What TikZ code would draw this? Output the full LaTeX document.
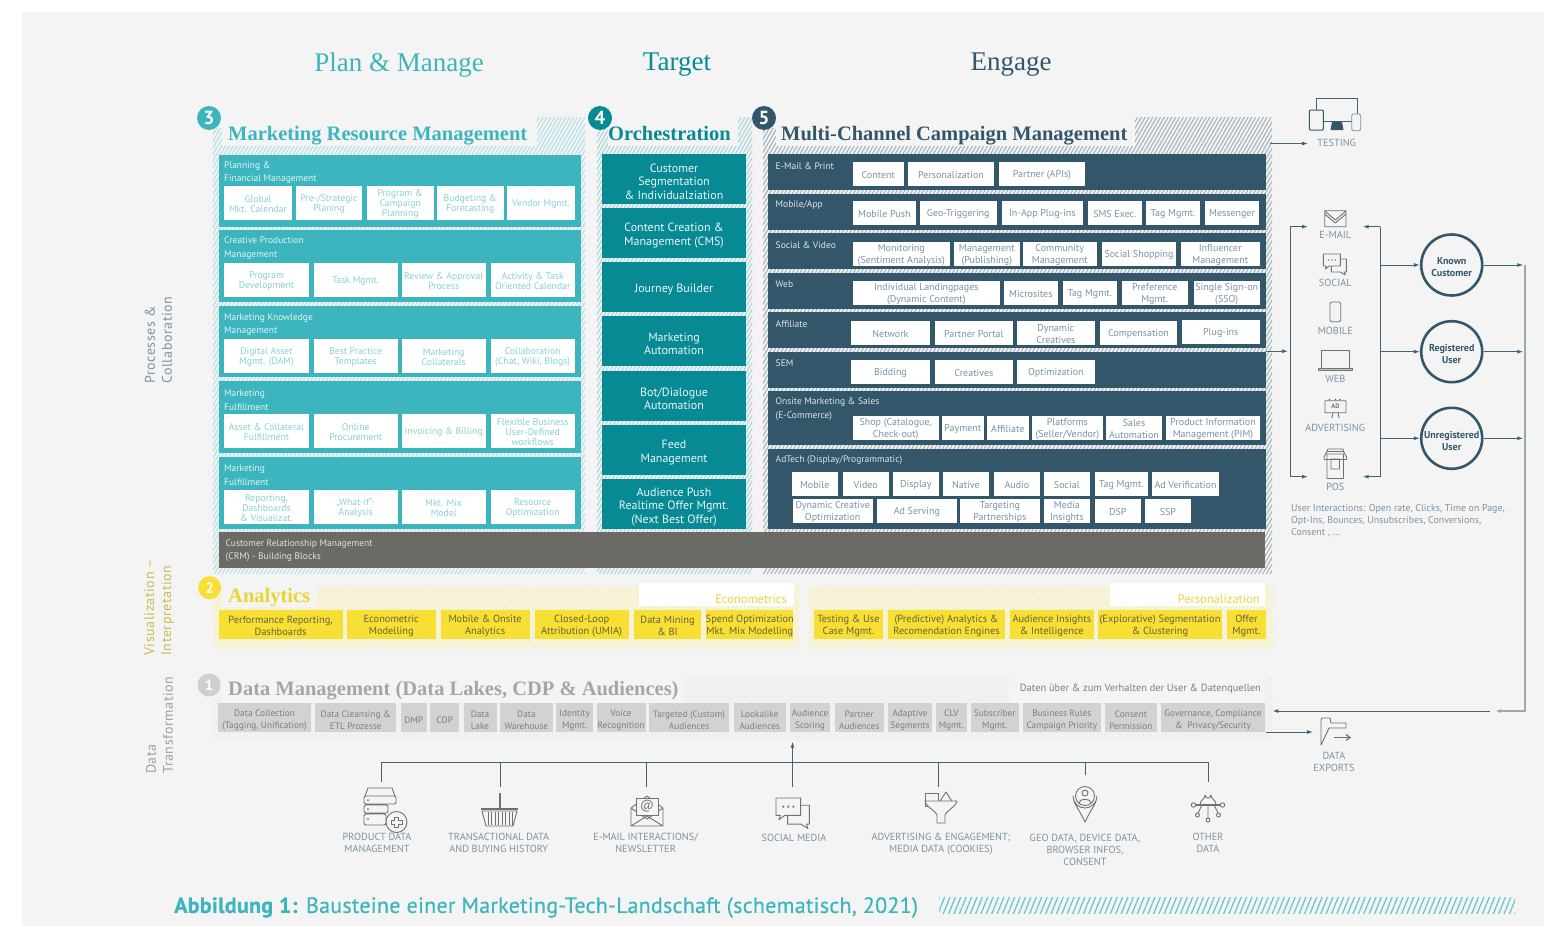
\documentclass[tikz,border=0pt]{standalone}
\usepackage{fontspec}
\setmainfont{PT Sans}
\newfontfamily\titlefont{Liberation Serif}
\newfontfamily\spacedfont[LetterSpace=4]{PT Sans}
\newfontfamily\capfont[LetterSpace=1.2,FakeBold=0.4]{PT Sans}
\usetikzlibrary{patterns.meta,arrows.meta}
\definecolor{bgc}{HTML}{F4F4F4}
\definecolor{mrm}{HTML}{3DB5BF}
\definecolor{orc}{HTML}{078A94}
\definecolor{mcc}{HTML}{33566B}
\definecolor{crm}{HTML}{6B6A65}
\definecolor{yel}{HTML}{F7DF33}
\definecolor{yeltx}{HTML}{66623F}
\definecolor{gbox}{HTML}{D2D2D0}
\definecolor{gtx}{HTML}{7E7E7B}
\definecolor{lbl}{HTML}{7B93A5}
\definecolor{ico}{HTML}{72716E}
\definecolor{conn}{HTML}{3F6379}
\newcount\myboxc
\def\txtdy{1.2}
\newcommand{\mybox}[6]{\global\advance\myboxc 1
  \pgfmathsetmacro\cx{(#2+#4)/2}\pgfmathsetmacro\cy{(#3+#5)/2}
  \pgfmathsetmacro\cty{\cy+\txtdy}
  \pgfmathsetmacro\bw{#4-#2}\pgfmathsetmacro\bh{#5-#3}
  \node[#1,minimum width=\bw pt,minimum height=\bh pt] (b\the\myboxc) at (\cx,\cy) {};
  \node[#1,fill=none] (bt\the\myboxc) at (\cx,\cty) {#6};}
\newcommand{\myhatch}[5]{\fill[pattern={Lines[angle=60,distance=3.3pt,line width=1.1pt]},pattern color=#5] (#1,#2) rectangle (#3,#4);}
\newcommand{\mypatch}[4]{\fill[bgc] (#1,#2) rectangle (#3,#4);}
\tikzset{
 base/.style={inner sep=0pt,outer sep=0pt,align=center},
 wbm/.style={base,fill=white,text=mrm!62,font=\fontsize{9.7}{10}\selectfont},
 wbc/.style={base,fill=white,text=lbl,font=\fontsize{10}{12}\selectfont},
 panm/.style={base,fill=mrm},
 pano/.style={base,fill=orc,text=white!92!orc,font=\fontsize{12}{13.5}\selectfont},
 panc/.style={base,fill=mcc},
 pantxt/.style={inner sep=0pt,anchor=west,align=left,yshift=-1.2pt,font=\fontsize{9.5}{13.5}\selectfont},
 ybox/.style={base,fill=yel,text=yeltx,font=\fontsize{10.4}{12}\selectfont},
 gboxs/.style={base,fill=gbox,text=gtx,font=\fontsize{9.3}{12}\selectfont},
 ttl/.style={inner sep=0pt,anchor=base west,font=\fontsize{20.5}{21}\titlefont\bfseries},
 hdr/.style={inner sep=0pt,yshift=-3pt,font=\fontsize{27}{27}\titlefont},
 num/.style={circle,inner sep=0pt,minimum size=24pt,text=white,font=\fontsize{19}{19}\selectfont\bfseries},
 side/.style={inner sep=0pt,rotate=90,align=left,font=\fontsize{14}{17}\spacedfont},
 lab/.style={inner sep=0pt,align=center,text=lbl,font=\fontsize{10.3}{12}\selectfont},
 kpi/.style={circle,draw=mcc,line width=2.6pt,minimum size=61pt,inner sep=0pt},
 kpit/.style={inner sep=0pt,align=center,text=mcc,font=\fontsize{10}{12}\selectfont\bfseries},
 arr/.style={draw=conn,line width=1pt,-{Latex[length=6pt,width=4pt]}},
 lin/.style={draw=conn,line width=1pt},
 icon/.style={draw=ico,line width=.9pt,line join=round,fill=none},
 socialicon/.pic={
   \draw[icon] (0,0) -- (17,0) -- (17,12) -- (6,12) -- (2,15) -- (3,12) -- (0,12) -- cycle;
   \draw[icon] (17,5) -- (23,5) -- (23,18) -- (21,18) -- (22,21) -- (17,18) -- (8,18) -- (8,12);
   \fill[ico] (5,6) circle (.8) (8.5,6) circle (.8) (12,6) circle (.8);
 }
}
\begin{document}
\begin{tikzpicture}[x=1pt,y=-1pt]
\useasboundingbox (0,0) rectangle (1544,926);
\fill[white] (0,0) rectangle (1544,926);
\fill[bgc] (22,12) rectangle (1544,926);
% headers
\node[hdr,text=mrm] (h1) at (399,62) {Plan \& Manage};
\node[hdr,text=orc] (h2) at (677,62) {Target};
\node[hdr,text=mcc] (h3) at (1011,62) {Engage};
% side labels
\node[side,anchor=west,text=lbl] (s1) at (158.5,384) {Processes \&\\Collaboration};
\node[side,anchor=west,text=yel!62!gray] (s2) at (159,656) {Visualization –\\Interpretation};
\node[side,anchor=west,text=gray!75] (s3) at (159.5,774) {Data\\Transformation};
% hatch regions
\myhatch{213}{117}{585}{573}{mrm!40}
\myhatch{597}{117}{752}{573}{orc!35}
\myhatch{763}{117}{1272}{573}{mcc!45}
\mypatch{222}{117}{537}{146}\mypatch{213}{117}{222}{128}
\mypatch{608}{117}{738}{146}\mypatch{597}{117}{608}{128}
\mypatch{776}{117}{1135}{146}\mypatch{763}{117}{776}{128}
% titles
\node[num,fill=mrm] (n3) at (209,118) {3};
\node[num,fill=orc] (n4) at (600,118) {4};
\node[num,fill=mcc] (n5) at (764,118) {5};
\node[ttl,text=mrm] (t3) at (228,140) {Marketing Resource Management};
\node[ttl,text=orc] (t4) at (608,140) {Orchestration};
\node[ttl,text=mcc] (t5) at (781,140) {Multi-Channel Campaign Management};
% MRM blocks
\mybox{panm}{219}{155}{581}{227}{}
\mybox{panm}{219}{230}{581}{302}{}
\mybox{panm}{219}{306}{581}{377}{}
\mybox{panm}{219}{381}{581}{453}{}
\mybox{panm}{219}{457}{581}{529}{}
\node[pantxt,text=white!85!mrm] (l1) at (224,171.3) {Planning \&\\Financial Management};
\node[pantxt,text=white!85!mrm] (l2) at (224,247) {Creative Production\\Management};
\node[pantxt,text=white!85!mrm] (l3) at (224,323.5) {Marketing Knowledge\\Management};
\node[pantxt,text=white!85!mrm] (l4) at (224,398.8) {Marketing\\Fulfillment};
\node[pantxt,text=white!85!mrm] (l5) at (224,474.2) {Marketing\\Fulfillment};
\mybox{wbm}{224.3}{186}{291.7}{220}{Global\\Mkt. Calendar}
\mybox{wbm}{295.7}{186}{362.3}{220}{Pre-/Strategic\\Planing}
\mybox{wbm}{366.7}{186}{433.7}{220}{Program \&\\Campaign\\Planning}
\mybox{wbm}{436.7}{186}{503.7}{220}{Budgeting \&\\Forecasting}
\mybox{wbm}{507.3}{186}{574.7}{220}{Vendor Mgmt.}
\mybox{wbm}{224.3}{263}{308.7}{297}{Program\\Development}
\mybox{wbm}{313.7}{263}{397.7}{297}{Task Mgmt.}
\mybox{wbm}{401.7}{263}{485.7}{297}{Review \& Approval\\Process}
\mybox{wbm}{490.7}{263}{574.7}{297}{Activity \& Task\\Oriented Calendar}
\mybox{wbm}{224.3}{339}{308.7}{373}{Digital Asset\\Mgmt. (DAM)}
\mybox{wbm}{313.7}{339}{397.7}{373}{Best Practice\\Templates}
\mybox{wbm}{401.7}{339}{485.7}{373}{Marketing\\Collaterals}
\mybox{wbm}{490.7}{339}{574.7}{373}{Collaboration\\(Chat, Wiki, Blogs)}
\mybox{wbm}{224.3}{414}{308.7}{448}{Asset \& Collateral\\Fulfillment}
\mybox{wbm}{313.7}{414}{397.7}{448}{Online\\Procurement}
\mybox{wbm}{401.7}{414}{485.7}{448}{Invoicing \& Billing}
\mybox{wbm}{490.7}{414}{574.7}{448}{Flexible Business\\User-Defined\\workflows}
\mybox{wbm}{224.3}{490}{308.7}{524}{Reporting,\\Dashboards\\\& Visualizat.}
\mybox{wbm}{313.7}{490}{397.7}{524}{„What-if“-\\Analysis}
\mybox{wbm}{401.7}{490}{485.7}{524}{Mkt. Mix\\Model}
\mybox{wbm}{490.7}{490}{574.7}{524}{Resource\\Optimization}
% Orchestration
\def\txtdy{2.7}
\mybox{pano}{602}{154}{746}{204}{Customer\\Segmentation\\\& Individualziation}
\mybox{pano}{602}{208}{746}{258}{Content Creation \&\\Management (CMS)}
\mybox{pano}{602}{262}{746}{312}{Journey Builder}
\mybox{pano}{602}{316}{746}{366}{Marketing\\Automation}
\mybox{pano}{602}{371}{746}{421}{Bot/Dialogue\\Automation}
\mybox{pano}{602}{425}{746}{475}{Feed\\Management}
\mybox{pano}{602}{479}{746}{529}{Audience Push\\Realtime Offer Mgmt.\\(Next Best Offer)}
\def\txtdy{1.2}
% MCC
\mybox{panc}{768.4}{154}{1266}{190}{}
\mybox{panc}{768.4}{194}{1266}{230}{}
\mybox{panc}{768.4}{233}{1266}{269}{}
\mybox{panc}{768.4}{273}{1266}{309}{}
\mybox{panc}{768.4}{312}{1266}{348}{}
\mybox{panc}{768.4}{352}{1266}{388}{}
\mybox{panc}{768.4}{391}{1266}{445}{}
\mybox{panc}{768.4}{449}{1266}{529}{}
\node[pantxt,text=white!85!mcc] (m1) at (775.5,164.7) {E-Mail \& Print};
\node[pantxt,text=white!85!mcc] (m2) at (775.5,204) {Mobile/App};
\node[pantxt,text=white!85!mcc] (m3) at (775.5,243.6) {Social \& Video};
\node[pantxt,text=white!85!mcc] (m4) at (775.5,283) {Web};
\node[pantxt,text=white!85!mcc] (m5) at (775.5,322.6) {Affiliate};
\node[pantxt,text=white!85!mcc] (m6) at (775.5,362) {SEM};
\node[pantxt,text=white!85!mcc] (m7) at (775.5,408) {Onsite Marketing \& Sales\\(E-Commerce)};
\node[pantxt,text=white!85!mcc] (m8) at (775.5,458.7) {AdTech (Display/Programmatic)};
\mybox{wbc}{852.8}{162}{903.7}{186}{Content}
\mybox{wbc}{908}{162}{994}{186}{Personalization}
\mybox{wbc}{999}{162}{1085}{186}{Partner (APIs)}
\mybox{wbc}{853}{201}{915.7}{225}{Mobile Push}
\mybox{wbc}{920}{201}{996.5}{225}{Geo-Triggering}
\mybox{wbc}{1002}{201}{1082.7}{225}{In-App Plug-ins}
\mybox{wbc}{1088}{201}{1141.6}{225}{SMS Exec.}
\mybox{wbc}{1146}{201}{1200}{225}{Tag Mgmt.}
\mybox{wbc}{1205}{201}{1259}{225}{Messenger}
\mybox{wbc}{853}{242}{949.6}{266}{Monitoring\\(Sentiment Analysis)}
\mybox{wbc}{954}{242}{1019.7}{266}{Management\\(Publishing)}
\mybox{wbc}{1023}{242}{1096.5}{266}{Community\\Management}
\mybox{wbc}{1102}{242}{1176}{266}{Social Shopping}
\mybox{wbc}{1181}{242}{1259.5}{266}{Influencer\\Management}
\mybox{wbc}{853}{281}{999.6}{305}{Individual Landingpages\\(Dynamic Content)}
\mybox{wbc}{1004}{281}{1057.7}{305}{Microsites}
\mybox{wbc}{1063}{281}{1116.6}{305}{Tag Mgmt.}
\mybox{wbc}{1122}{281}{1187.6}{305}{Preference\\Mgmt.}
\mybox{wbc}{1194}{281}{1259.5}{305}{Single Sign-on\\(SSO)}
\mybox{wbc}{851.4}{321}{929.5}{345}{Network}
\mybox{wbc}{935}{321}{1012.6}{345}{Partner Portal}
\mybox{wbc}{1017}{321}{1094.7}{345}{Dynamic\\Creatives}
\mybox{wbc}{1100}{321}{1177}{345}{Compensation}
\mybox{wbc}{1182}{320}{1259.5}{344}{Plug-ins}
\mybox{wbc}{851.4}{360}{929.5}{384}{Bidding}
\mybox{wbc}{935}{360}{1012.6}{384}{Creatives}
\mybox{wbc}{1017}{360}{1094.7}{384}{Optimization}
\mybox{wbc}{852.7}{416}{938.7}{440}{Shop (Catalogue,\\Check-out)}
\mybox{wbc}{942}{416}{983.7}{440}{Payment}
\mybox{wbc}{987}{416}{1028.7}{440}{Affiliate}
\mybox{wbc}{1032}{416}{1102.7}{440}{Platforms\\(Seller/Vendor)}
\mybox{wbc}{1106}{416}{1162}{440}{Sales\\Automation}
\mybox{wbc}{1166}{416}{1260}{440}{Product Information\\Management (PIM)}
\mybox{wbc}{791.7}{472.3}{837.7}{496}{Mobile}
\mybox{wbc}{842.7}{472.3}{888.7}{496}{Video}
\mybox{wbc}{893}{472.3}{938.7}{496}{Display}
\mybox{wbc}{943}{472.3}{988.7}{496}{Native}
\mybox{wbc}{994}{472.3}{1039.7}{496}{Audio}
\mybox{wbc}{1044}{472.3}{1089.7}{496}{Social}
\mybox{wbc}{1095}{472.3}{1148}{496}{Tag Mgmt.}
\mybox{wbc}{1152}{472.3}{1219}{496}{Ad Verification}
\mybox{wbc}{792.7}{499}{872.7}{522.7}{Dynamic Creative\\Optimization}
\mybox{wbc}{877}{499}{956.7}{522.7}{Ad Serving}
\mybox{wbc}{960}{499}{1039.7}{522.7}{Targeting\\Partnerships}
\mybox{wbc}{1044}{499}{1089.7}{522.7}{Media\\Insights}
\mybox{wbc}{1095}{499}{1140.7}{522.7}{DSP}
\mybox{wbc}{1145}{499}{1190.7}{522.7}{SSP}
% CRM
\mybox{base,fill=crm}{219}{532}{1265}{568}{}
\node[pantxt,text=white!80!crm] (crmt) at (225.5,549.7) {Customer Relationship Management\\(CRM) - Building Blocks};
% Analytics
\myhatch{214}{586}{799}{648}{yel!45}
\myhatch{809}{586}{1272.7}{648}{yel!45}
\mypatch{222}{586}{317}{607}
\fill[white] (639,583) rectangle (794,606);
\fill[white] (1110,583) rectangle (1265,606);
\node[num,fill=yel,minimum size=23pt,font=\fontsize{15}{15}\selectfont\bfseries] (n2) at (209.6,587.7) {2};
\node[ttl,text=yel!95!black] (t2) at (228,602) {Analytics};
\node[inner sep=0pt,anchor=east,text=yel!90!gray,font=\fontsize{12.5}{12.5}\selectfont] (e1) at (787,599) {Econometrics};
\node[inner sep=0pt,anchor=east,text=yel!90!gray,font=\fontsize{12.5}{12.5}\selectfont] (e2) at (1260,599) {Personalization};
\def\txtdy{1.5}
\mybox{ybox}{218.6}{610}{342.7}{639}{Performance Reporting,\\Dashboards}
\mybox{ybox}{346.7}{610}{435.7}{639}{Econometric\\Modelling}
\mybox{ybox}{440.6}{610}{529.6}{639}{Mobile \& Onsite\\Analytics}
\mybox{ybox}{534.5}{610}{628.8}{639}{Closed-Loop\\Attribution (UMIA)}
\mybox{ybox}{633.7}{610}{701.4}{639}{Data Mining\\\& BI}
\mybox{ybox}{706.3}{610}{793.3}{639}{Spend Optimization\\Mkt. Mix Modelling}
\mybox{ybox}{814}{610}{883}{639}{Testing \& Use\\Case Mgmt.}
\mybox{ybox}{888}{610}{1005}{639}{(Predictive) Analytics \&\\Recomendation Engines}
\mybox{ybox}{1010}{610}{1093.7}{639}{Audience Insights\\\& Intelligence}
\mybox{ybox}{1098}{610}{1222}{639}{(Explorative) Segmentation\\\& Clustering}
\mybox{ybox}{1227}{610}{1266}{639}{Offer\\Mgmt.}
% Data management
\myhatch{212.6}{677}{1272.4}{739}{gray!15}
\mypatch{222}{677}{684}{702.7}
\mypatch{1009}{677}{1265}{702.7}
\node[num,fill=gray!38,minimum size=23pt,font=\fontsize{15}{15}\selectfont\bfseries] (n1) at (209,685) {1};
\node[ttl,text=gray!70] (t1) at (228,695) {Data Management (Data Lakes, CDP \& Audiences)};
\node[inner sep=0pt,anchor=east,text=gtx,font=\fontsize{10.4}{10}\selectfont] (dt) at (1261,689) {Daten über \& zum Verhalten der User \& Datenquellen};
\def\txtdy{2.5}
\mybox{gboxs}{218.4}{702.7}{310.8}{732}{Data Collection\\(Tagging, Unification)}
\mybox{gboxs}{315.3}{702.7}{396}{732}{Data Cleansing \&\\ETL Prozesse}
\mybox{gboxs}{400.5}{702.7}{427}{732}{DMP}
\mybox{gboxs}{430.4}{702.7}{459}{732}{CDP}
\mybox{gboxs}{463.5}{702.7}{496.5}{732}{Data\\Lake}
\mybox{gboxs}{500}{702.7}{552.8}{732}{Data\\Warehouse}
\mybox{gboxs}{556.3}{702.7}{593}{732}{Identity\\Mgmt.}
\mybox{gboxs}{596.5}{702.7}{645.6}{732}{Voice\\Recognition}
\mybox{gboxs}{649}{702.7}{729}{732}{Targeted (Custom)\\Audiences}
\mybox{gboxs}{733.6}{702.7}{785.8}{732}{Lookalike\\Audiences}
\mybox{gboxs}{790}{702.7}{830}{732}{Audience\\Scoring}
\mybox{gboxs}{834.8}{702.7}{883.7}{732}{Partner\\Audiences}
\mybox{gboxs}{887.9}{702.7}{932}{732}{Adaptive\\Segments}
\mybox{gboxs}{936}{702.7}{966.8}{732}{CLV\\Mgmt.}
\mybox{gboxs}{970.5}{702.7}{1019}{732}{Subscriber\\Mgmt.}
\mybox{gboxs}{1022.7}{702.7}{1101}{732}{Business Rules\\Campaign Priority}
\mybox{gboxs}{1104.9}{702.7}{1157}{732}{Consent\\Permission}
\mybox{gboxs}{1161}{702.7}{1265}{732}{Governance, Compliance\\\& \ Privacy/Security}
% Right side
\node[lab] (testing) at (1336.7,142.7) {TESTING};
\coordinate (tst) at (1270,143.5); \coordinate (tsti) at (1308,143.5);
\draw[arr] (tst) -- (tsti);
\draw[draw=conn,line width=1pt] (1316.7,110) -- (1316.7,98.3) -- (1357.3,98.3) -- (1357.3,114);
\draw[draw=conn,line width=1pt] (1323.3,121.7) -- (1351.7,121.7);
\fill[mcc] (1332,122) -- (1342,122) -- (1343.5,130) -- (1330.5,130) -- cycle;
\draw[draw=mcc,line width=1pt,rounded corners=1pt] (1309.3,110) rectangle (1323.3,130);
\draw[draw=lbl,line width=.9pt,rounded corners=1.5pt] (1351.7,114) rectangle (1360.7,130.7);
\node[lab] (le) at (1335.3,235) {E-MAIL};
\node[lab] (ls) at (1335.3,283) {SOCIAL};
\node[lab] (lm) at (1335.3,331) {MOBILE};
\node[lab] (lw) at (1335.3,379) {WEB};
\node[lab] (la) at (1335.3,428.3) {ADVERTISING};
\node[lab] (lp) at (1335.3,487) {POS};
\draw[icon] (1324.7,210.7) rectangle (1346,226.7) (1324.7,211) -- (1335.3,220) -- (1346,211) (1324.7,214) -- (1335.3,223) -- (1346,214);
\path (1323.3,254) pic {socialicon};
\draw[icon,rounded corners=1.5pt] (1330,302) rectangle (1340.7,321.7);
\draw[icon] (1321.7,350.7) rectangle (1349.3,368.3);
\draw[icon,fill=gray!45] (1318.3,368.3) rectangle (1352.7,370.7);
\draw[icon] (1325,400.7) rectangle (1346,412.7) (1333,412.7) -- (1332,418) (1338,412.7) -- (1339,418);
\fill[ico] (1329.5,399.5) circle (.8) (1335.5,399.5) circle (.8) (1340,399.5) circle (.8);
\node[inner sep=0pt,text=ico,font=\fontsize{6.5}{6.5}\selectfont\bfseries] (adt) at (1335.5,406.7) {AD};
\draw[icon] (1327,454) rectangle (1343.5,478.5) (1331,459) rectangle (1339.5,469) (1324,457) -- (1327,451.5) -- (1343.5,451.5) -- (1346.5,457) -- (1346.5,459.5) -- (1324,459.5) -- cycle (1327,451.5) -- (1328,449) -- (1343,449) -- (1343.5,451.5);
\node[kpi] (c1) at (1451.7,265) {};
\node[kpi] (c2) at (1451.7,351.7) {};
\node[kpi] (c3) at (1451.7,438.3) {};
\node[kpit] (c1t) at (1451.7,267.5) {Known\\Customer};
\node[kpit] (c2t) at (1451.7,354.5) {Registered\\User};
\node[kpit] (c3t) at (1451.7,441) {Unregistered\\User};
\coordinate (lbt) at (1290,226.7); \coordinate (lbb) at (1290,476.7);
\coordinate (rbt) at (1380.3,226.7); \coordinate (rbb) at (1380.3,476.7);
\coordinate (lit) at (1308,226.7); \coordinate (lib) at (1308,476.7);
\coordinate (rit) at (1362.7,226.7); \coordinate (rib) at (1362.7,476.7);
\draw[arr] (lbb) -- (lib);
\draw[lin] (lbb) -- (lbt);
\draw[arr] (lbt) -- (lit);
\draw[arr] (rbb) -- (rib);
\draw[lin] (rbb) -- (rbt);
\draw[arr] (rbt) -- (rit);
\coordinate (mccout) at (1266,351.2); \coordinate (brin) at (1288,351.2);
\draw[arr] (mccout) -- (brin);
\draw[arr] (c1.west -| rbt) -- (c1.west);
\draw[arr] (c2.west -| rbt) -- (c2.west);
\draw[arr] (c3.west -| rbt) -- (c3.west);
\coordinate (vx) at (1525,265); \coordinate (vb) at (1525,711);
\coordinate (ax1) at (1523.3,265); \coordinate (ax2) at (1523.3,351.7); \coordinate (ax3) at (1523.3,438.3);
\draw[arr] (c1.east) -- (ax1);
\draw[arr] (c2.east) -- (ax2);
\draw[arr] (c3.east) -- (ax3);
\coordinate (va) at (1495,711); \coordinate (vc) at (1489.5,711); \coordinate (dmin) at (1272.4,711);
\draw[draw=lbl!80,line width=1.5pt,-{Latex[length=6pt,width=4pt]}] (vx) -- (vb) -- (va);
\draw[arr] (vc) -- (dmin);
\node[inner sep=0pt,align=left,anchor=west,text=lbl,font=\fontsize{9.9}{12.2}\selectfont] (ui) at (1291,520.7) {User Interactions: Open rate, Clicks, Time on Page,\\Opt-Ins, Bounces, Unsubscribes, Conversions,\\Consent , \dots};
% exports
\coordinate (exo) at (1266,732); \coordinate (exi) at (1313,732);
\draw[arr] (exo) -- (exi);
\draw[icon] (1321,745) -- (1321,720) -- (1322,718) -- (1330,718) -- (1331,723) -- (1346,723) -- (1346,728) -- (1329,728) -- cycle;
\draw[draw=ico,line width=1.2pt,-{Straight Barb[length=4pt,width=6pt]}] (1334,737.5) -- (1351,737.5);
\node[lab] (dx) at (1334,761.7) {DATA\\EXPORTS};
% bottom tree
\coordinate (tl) at (381.8,762); \coordinate (tr) at (1208,762);
\draw[lin] (381.8,782) -- (tl) -- (tr) -- (1208,782);
\coordinate (d2) at (500,786.7); \coordinate (d3) at (646.5,786.7); \coordinate (d4) at (792.5,786.7); \coordinate (d5) at (938,786.7); \coordinate (d6) at (1085.5,775);
\coordinate (dma) at (792.5,741.7);
\draw[lin] (d2) -- (d2 |- tl);
\draw[lin] (d3) -- (d3 |- tl);
\draw[arr] (d4) -- (dma);
\draw[lin] (d5) -- (d5 |- tl);
\draw[lin] (d6) -- (d6 |- tl);
\node[lab] (b1) at (377,843) {PRODUCT DATA\\MANAGEMENT};
\node[lab] (b2) at (498.7,843) {TRANSACTIONAL DATA\\AND BUYING HISTORY};
\node[lab] (b3) at (645.6,843) {E-MAIL INTERACTIONS/\\NEWSLETTER};
\node[lab] (b4) at (794,837.5) {SOCIAL MEDIA};
\node[lab] (b5) at (941,843.5) {ADVERTISING \& ENGAGEMENT;\\MEDIA DATA (COOKIES)};
\node[lab] (b6) at (1085,849.5) {GEO DATA, DEVICE DATA,\\BROWSER INFOS,\\CONSENT};
\node[lab] (b7) at (1208,843) {OTHER\\DATA};
% product icon
\draw[icon,rounded corners=2pt] (364,796) rectangle (396,804) (364,805) rectangle (388,813) (364,814) rectangle (386,825);
\draw[icon] (365,796) -- (368,788) -- (392,788) -- (395,796);
\fill[ico] (368,800) circle (1) (368,809) circle (1) (368,819) circle (1);
\draw[icon,fill=bgc] (396.5,822) circle (10.5);
\draw[icon] (394.5,817) -- (398.5,817) -- (398.5,820) -- (402,820) -- (402,824) -- (398.5,824) -- (398.5,827) -- (394.5,827) -- (394.5,824) -- (391,824) -- (391,820) -- (394.5,820) -- cycle;
% basket
\draw[draw=ico,line width=1.5pt] (500,793) -- (500,809);
\draw[draw=ico,line width=1.2pt] (481,809) -- (518,809);
\draw[icon] (482,811) -- (486,826) -- (513,826) -- (517,811) -- cycle;
\foreach \q in {488,491.5,495,498.5,502,505.5,509,512.5}{\draw[draw=ico,line width=.9pt] (\q,812) -- (\q,825);}
% mail
\draw[icon] (631,808) -- (631,826) -- (663,826) -- (663,808) -- (647,796) -- cycle (631,826) -- (647,816) -- (663,826) (631,808) -- (647,819) -- (663,808);
\draw[icon,fill=bgc] (636,798) rectangle (658,815);
\node[inner sep=0pt,text=ico,font=\fontsize{13}{13}\selectfont] (atm) at (647,806) {@};
% social
\path (776,798) pic[scale=1.45] {socialicon};
% funnel
\draw[icon] (925,793) rectangle (938,806);
\draw[icon] (938,804) -- (946,792) -- (953,803);
\draw[icon,fill=bgc] (925,801) .. controls (925,806) and (935,810) .. (937,815) -- (937,823) -- (945,823) -- (945,815) .. controls (947,810) and (957,806) .. (957,801) -- cycle;
% pin
\draw[icon] (1085,822) .. controls (1079,809) and (1073,803) .. (1073,796) arc[start angle=180,end angle=0,radius=12] .. controls (1097,803) and (1091,809) .. (1085,822) -- cycle;
\draw[icon] (1085,796) circle (9.5) (1085,793) circle (3) (1079,803) .. controls (1079,798) and (1091,798) .. (1091,803);
% other data
\draw[icon] (1200,805) .. controls (1200,799) and (1205,800) .. (1205,795) arc[start angle=180,end angle=0,radius=3] .. controls (1211,800) and (1216,799) .. (1216,805);
\draw[draw=ico,line width=1.6pt] (1195,805) -- (1221,805);
\draw[icon] (1208,805) -- (1208,819) (1202,805) -- (1198,813) (1214,805) -- (1218,813);
\draw[icon] (1193.5,805) circle (2.2) (1222.5,805) circle (2.2) (1208,820) circle (2) (1197.5,815) circle (2) (1218.5,815) circle (2);
% caption
\node[inner sep=0pt,anchor=west,text=mrm,font=\fontsize{22}{22}\capfont] (cap) at (174,907.5) {\textbf{Abbildung 1:} Bausteine einer Marketing-Tech-Landschaft (schematisch, 2021)};
\fill[pattern={Lines[angle=68,distance=5pt,line width=1.2pt]},pattern color=mrm!80] (939,897) rectangle (1515,913);
\end{tikzpicture}
\end{document}
